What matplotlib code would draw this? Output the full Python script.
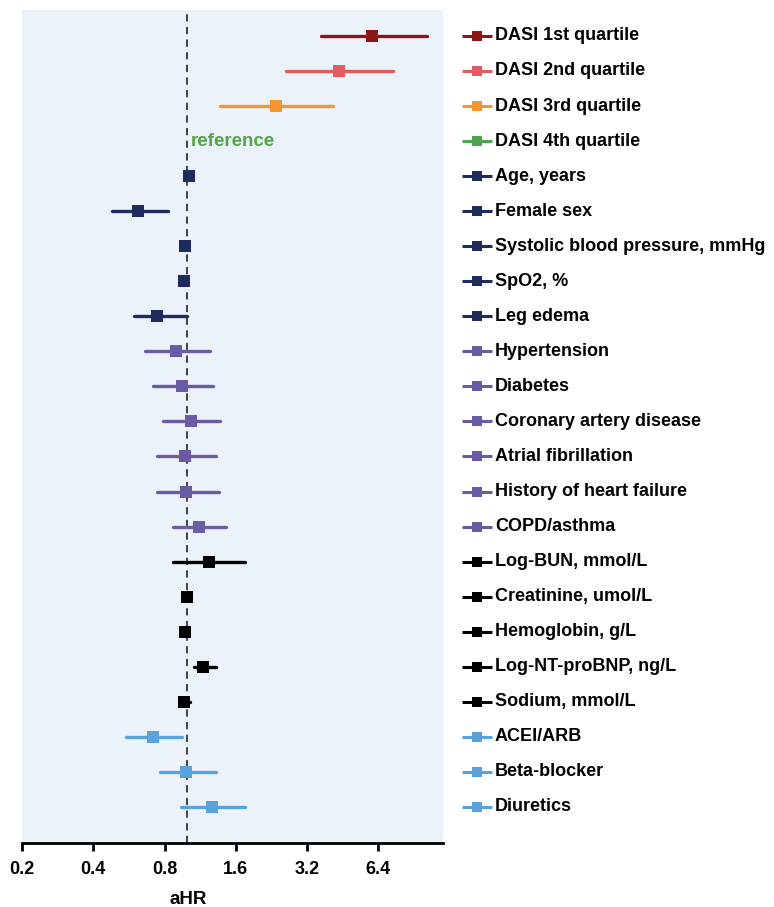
import numpy as np
import matplotlib
matplotlib.use("Agg")
import matplotlib.pyplot as plt

plt.rcParams['font.family'] = ['Liberation Sans', 'DejaVu Sans']

labels = [
    "DASI 1st quartile", "DASI 2nd quartile", "DASI 3rd quartile", "DASI 4th quartile",
    "Age, years", "Female sex", "Systolic blood pressure, mmHg", "SpO2, %", "Leg edema",
    "Hypertension", "Diabetes", "Coronary artery disease", "Atrial fibrillation",
    "History of heart failure", "COPD/asthma",
    "Log-BUN, mmol/L", "Creatinine, umol/L", "Hemoglobin, g/L", "Log-NT-proBNP, ng/L",
    "Sodium, mmol/L",
    "ACEI/ARB", "Beta-blocker", "Diuretics",
]
# adjusted hazard ratios and 95% CI (None = reference category)
ahr = [6.04, 4.38, 2.36, None,
       1.01, 0.62, 0.98, 0.963, 0.745,
       0.896, 0.95, 1.034, 0.978, 0.99, 1.115,
       1.228, 0.995, 0.975, 1.158, 0.963,
       0.713, 0.99, 1.264]
ci_low = [3.66, 2.60, 1.37, None,
          1.00, 0.478, 0.97, 0.95, 0.593,
          0.663, 0.715, 0.788, 0.745, 0.745, 0.871,
          0.871, 0.99, 0.96, 1.068, 0.93,
          0.551, 0.767, 0.936]
ci_high = [10.3, 7.38, 4.12, None,
           1.02, 0.83, 0.99, 0.975, 0.997,
           1.244, 1.284, 1.375, 1.32, 1.357, 1.457,
           1.75, 1.0, 0.99, 1.32, 1.02,
           0.95, 1.32, 1.75]
colors = (["#8C1616", "#E25B60", "#F7962F", "#4FA64F"]
          + ["#1E2B5C"] * 5 + ["#6B5BA5"] * 6 + ["#000000"] * 5 + ["#5AA3DA"] * 3)
xticks = [0.2, 0.4, 0.8, 1.6, 3.2, 6.4]

W, H = 774, 907
fig = plt.figure(figsize=(W / 100, H / 100), dpi=100)
ax = fig.add_axes([22 / W, (H - 843) / H, 421 / W, 833 / H])
lax = fig.add_axes([455 / W, (H - 843) / H, (W - 455) / W, 833 / H], sharey=ax)

ax.set_facecolor("#EBF2FA")
ax.set_xscale("log", base=2)
ax.set_xlim(0.2, 12.0)
n = len(labels)
ax.set_ylim(n - 1 + 1.03, -0.74)

ax.axvline(1.0, color="#333333", lw=1.3, ls=(0, (4, 3)), zorder=1)

for i in range(n):
    if ahr[i] is None:
        continue
    ax.plot([ci_low[i], ci_high[i]], [i, i], color=colors[i], lw=2.4,
            solid_capstyle="round", zorder=2)
    ax.plot([ahr[i]], [i], marker="s", ms=8.6, color=colors[i],
            markeredgewidth=0, zorder=3)

ax.text(1.03, 3, "reference", color="#55A546", fontsize=13.5, fontweight="bold",
        va="center", ha="left")

for s in ["top", "right", "left"]:
    ax.spines[s].set_visible(False)
ax.spines["bottom"].set_linewidth(2)
ax.set_yticks([])
ax.set_xticks(xticks)
ax.set_xticklabels([f"{t:g}" for t in xticks], fontsize=13, fontweight="bold")
ax.xaxis.set_minor_locator(matplotlib.ticker.NullLocator())
ax.tick_params(axis="x", length=6, width=2, pad=7)
ax.set_xlabel("aHR", fontsize=13.5, fontweight="bold", x=0.395, labelpad=9)

# legend-style key aligned with each row
lax.set_xlim(0, W - 455)
lax.axis("off")
for i in range(n):
    lax.plot([7, 37], [i, i], color=colors[i], lw=2.2, solid_capstyle="butt")
    lax.plot([22], [i], marker="s", ms=7, color=colors[i], markeredgewidth=0)
    lax.text(40, i, labels[i], fontsize=13, fontweight="bold", va="center", ha="left")

fig.savefig("out.png", dpi=100)
